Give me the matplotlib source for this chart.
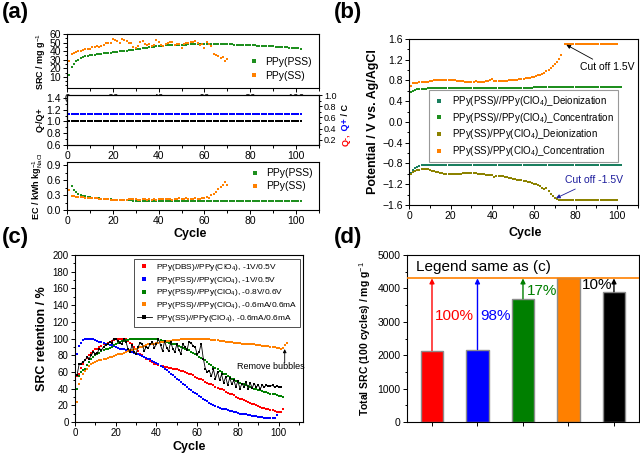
import numpy as np
import matplotlib
matplotlib.use('Agg')
import matplotlib.pyplot as plt
from matplotlib.ticker import MultipleLocator

plt.rcParams['font.family'] = ['Liberation Sans', 'DejaVu Sans']
plt.rcParams['mathtext.fontset'] = 'custom'
plt.rcParams['mathtext.rm'] = 'Liberation Sans'
plt.rcParams['mathtext.it'] = 'Liberation Sans:italic'
plt.rcParams['mathtext.bf'] = 'Liberation Sans:bold'
plt.rcParams['axes.linewidth'] = 0.8

# ---------------- (a) data ----------------
src_pss = [12, 22, 25, 28, 30, 32, 33, 34, 34.5, 35, 35.5, 36, 36.5, 36.8, 37, 37.3, 37.6, 38, 38.3, 38.6,
           39, 39.3, 39.6, 40, 40.3, 40.6, 41, 41.3, 41.6, 42, 42.5, 43, 43.4, 43.8, 44.2, 44.6, 45, 45.3, 45.6, 46,
           46.2, 46.4, 46.6, 46.8, 47, 47.1, 47.2, 47.3, 47.4, 47.5, 47.6, 47.7, 47.8, 47.9, 48, 48.1, 48.2, 48.3, 48.4, 48.5,
           48.5, 48.4, 48.3, 48.3, 48.2, 48.2, 48.1, 48.1, 48, 48, 47.9, 47.8, 47.7, 47.6, 47.5, 47.4, 47.3, 47.2, 47.1, 47,
           46.8, 46.6, 46.4, 46.2, 46, 45.9, 45.8, 45.7, 45.6, 45.5, 45.3, 45.1, 44.9, 44.7, 44.5, 44.3, 44.1, 43.9, 43.7, 43.5,
           43.2, 43]
src_ss = [29, 37, 38, 39, 40, 40, 41, 42, 43, 43, 45, 45, 46, 45, 46, 47, 50, 49, 50, 54,
          53, 52, 50, 54, 53, 52, 50, 49, 45, 44, 46, 51, 52, 48, 47, 48, 46, 47, 53, 51,
          47, 46, 48, 49, 51, 51, 47, 48, 48, 44, 48, 50, 49, 51, 51, 52, 50, 47, 48, 44,
          51, 48, 46, 37, 35, 34, 32, 33, 29, 31]
q_ratio_pss = [1.12] * 102
q_ratio_ss = [1.0] * 102
ec_pss = [0.49, 0.41, 0.36, 0.33, 0.31, 0.29, 0.28, 0.27, 0.26, 0.25, 0.245, 0.24, 0.235, 0.23, 0.226, 0.222, 0.218, 0.214, 0.21,
          0.207, 0.204, 0.202, 0.2, 0.198, 0.196, 0.194, 0.192, 0.19, 0.189, 0.188, 0.187, 0.186, 0.185, 0.184, 0.183, 0.182,
          0.181, 0.18, 0.18, 0.179, 0.179, 0.178, 0.178, 0.178, 0.177, 0.177, 0.177, 0.176, 0.176, 0.176, 0.176, 0.175, 0.175,
          0.175, 0.175, 0.175, 0.174, 0.174, 0.174, 0.174, 0.173, 0.173, 0.173, 0.173, 0.173, 0.172, 0.172, 0.172, 0.172, 0.172,
          0.172, 0.172, 0.172, 0.173, 0.173, 0.173, 0.173, 0.173, 0.174, 0.174, 0.174, 0.174, 0.174, 0.175, 0.175, 0.175, 0.175,
          0.176, 0.176, 0.176, 0.177, 0.177, 0.177, 0.178, 0.178, 0.178, 0.179, 0.179, 0.18, 0.18, 0.18]
ec_ss = [0.40, 0.29, 0.28, 0.27, 0.27, 0.26, 0.26, 0.25, 0.25, 0.25, 0.24, 0.24, 0.24, 0.23, 0.23, 0.23, 0.22, 0.22, 0.21, 0.21,
         0.21, 0.21, 0.21, 0.21, 0.21, 0.21, 0.22, 0.23, 0.23, 0.22, 0.21, 0.20, 0.22, 0.22, 0.21, 0.22, 0.21, 0.22, 0.21, 0.23,
         0.22, 0.23, 0.22, 0.23, 0.22, 0.21, 0.22, 0.23, 0.24, 0.23, 0.22, 0.24, 0.23, 0.22, 0.23, 0.24, 0.22, 0.23, 0.24, 0.25,
         0.27, 0.24, 0.30, 0.33, 0.36, 0.42, 0.46, 0.50, 0.56, 0.51]

# ---------------- (b) data ----------------
pot_pss_deion = [-0.98, -0.92, -0.88, -0.86, -0.84, -0.83, -0.82, -0.82, -0.82, -0.82, -0.82, -0.82, -0.82, -0.82, -0.82,
                 -0.82, -0.82, -0.82, -0.82, -0.82, -0.82, -0.82, -0.82, -0.82, -0.82, -0.82, -0.82, -0.82, -0.82, -0.82,
                 -0.82, -0.82, -0.82, -0.82, -0.82, -0.82, -0.82, -0.82, -0.82, -0.82, -0.82, -0.82, -0.82, -0.82, -0.82,
                 -0.82, -0.82, -0.82, -0.82, -0.82, -0.82, -0.82, -0.82, -0.82, -0.82, -0.82, -0.82, -0.82, -0.82, -0.82,
                 -0.82, -0.82, -0.82, -0.82, -0.82, -0.82, -0.82, -0.82, -0.82, -0.82, -0.82, -0.82, -0.82, -0.82, -0.82,
                 -0.82, -0.82, -0.82, -0.82, -0.82, -0.82, -0.82, -0.83, -0.83, -0.83, -0.83, -0.83, -0.83, -0.83, -0.83,
                 -0.83, -0.83, -0.83, -0.83, -0.83, -0.83, -0.83, -0.83, -0.83, -0.83, -0.83, -0.83]
pot_pss_conc = [0.57, 0.60, 0.62, 0.63, 0.64, 0.64, 0.64, 0.64, 0.65, 0.65, 0.65, 0.65, 0.65, 0.65, 0.65, 0.65, 0.65, 0.65,
                0.65, 0.65, 0.66, 0.66, 0.66, 0.66, 0.66, 0.66, 0.66, 0.66, 0.66, 0.66, 0.66, 0.66, 0.66, 0.66, 0.66, 0.66,
                0.66, 0.66, 0.66, 0.66, 0.66, 0.66, 0.66, 0.66, 0.66, 0.66, 0.66, 0.66, 0.66, 0.66, 0.66, 0.66, 0.66, 0.66,
                0.66, 0.66, 0.66, 0.66, 0.66, 0.67, 0.67, 0.67, 0.67, 0.67, 0.67, 0.67, 0.67, 0.67, 0.67, 0.67, 0.67, 0.67,
                0.67, 0.67, 0.67, 0.67, 0.67, 0.67, 0.67, 0.67, 0.67, 0.68, 0.68, 0.68, 0.68, 0.68, 0.68, 0.68, 0.68, 0.68,
                0.68, 0.68, 0.68, 0.68, 0.68, 0.68, 0.68, 0.68, 0.68, 0.68, 0.68, 0.68]
pot_ss_deion = [-1.00, -0.97, -0.95, -0.93, -0.92, -0.91, -0.90, -0.90, -0.91, -0.92, -0.94, -0.95, -0.96, -0.97, -0.98,
                -0.99, -1.00, -1.00, -1.01, -1.01, -1.01, -1.00, -1.00, -1.00, -1.00, -0.99, -0.99, -0.99, -0.99, -0.98,
                -0.98, -0.98, -1.01, -1.01, -1.01, -1.01, -1.02, -1.02, -1.02, -1.03, -1.06, -1.04, -1.04, -1.05, -1.05,
                -1.06, -1.07, -1.08, -1.08, -1.09, -1.10, -1.11, -1.11, -1.12, -1.13, -1.14, -1.15, -1.16, -1.17, -1.19,
                -1.20, -1.22, -1.24, -1.27, -1.30, -1.28, -1.33, -1.38, -1.42, -1.46, -1.49, -1.50, -1.50, -1.50, -1.50,
                -1.50, -1.50, -1.50, -1.50, -1.50, -1.50, -1.50, -1.50, -1.50, -1.50, -1.50, -1.50, -1.50, -1.50, -1.50,
                -1.50, -1.50, -1.50, -1.50, -1.50, -1.50, -1.50, -1.50, -1.50, -1.50]
pot_ss_conc = [0.70, 0.76, 0.76, 0.76, 0.77, 0.77, 0.77, 0.78, 0.78, 0.79, 0.79, 0.80, 0.80, 0.80, 0.81, 0.81, 0.81, 0.81,
               0.81, 0.80, 0.80, 0.80, 0.79, 0.79, 0.79, 0.79, 0.78, 0.78, 0.78, 0.78, 0.78, 0.79, 0.78, 0.78, 0.78, 0.78,
               0.79, 0.79, 0.80, 0.82, 0.79, 0.79, 0.79, 0.79, 0.79, 0.79, 0.79, 0.80, 0.80, 0.80, 0.81, 0.81, 0.82, 0.82,
               0.83, 0.84, 0.84, 0.85, 0.86, 0.87, 0.88, 0.90, 0.91, 0.93, 0.95, 0.98, 1.01, 1.04, 1.07, 1.11, 1.15, 1.22,
               1.30, np.nan, 1.50, 1.50, 1.50, 1.50, 1.50, 1.50, 1.50, 1.50, 1.50, 1.50, 1.50, 1.50, 1.50, 1.50, 1.50, 1.50,
               1.50, 1.50, 1.50, 1.50, 1.50, 1.50, 1.50, 1.50, 1.50, 1.50]

# ---------------- (c) data ----------------
ret_dbs = [55, 58, 65, 70, 74, 77, 80, 83, 85, 87, 88, 90, 91, 93, 94, 95, 96, 97, 98, 99,
           99, 100, 100, 100, 99, 97, 95, 93, 90, 88, 85, 82, 80, 78, 76, 75, 73, 72, 70, 69,
           68, 67, 67, 66, 66, 65, 65, 64, 64, 63, 62, 61, 61, 60, 59, 58, 57, 56, 54, 53,
           52, 51, 50, 48, 47, 46, 45, 44, 42, 41, 40, 39, 38, 36, 35, 34, 33, 32, 30, 29,
           28, 27, 26, 25, 24, 23, 22, 21, 20, 19, 18, 17, 17, 16, 15, 14, 14, 13, 12, 12, 12, 16]
ret_pss_1v = [82, 91, 95, 98, 99, 100, 100, 99, 99, 98, 97, 96, 96, 95, 94, 93, 92, 92, 91, 90,
              89, 88, 88, 87, 86, 85, 84, 84, 83, 82, 81, 80, 79, 78, 77, 76, 75, 73, 72, 71,
              69, 67, 66, 64, 62, 60, 58, 56, 54, 52, 50, 48, 46, 44, 42, 40, 38, 36, 35, 33,
              31, 30, 28, 26, 25, 23, 22, 20, 19, 18, 17, 16, 15, 15, 14, 13, 13, 12, 12, 11,
              10, 10, 9, 9, 8, 8, 7, 7, 7, 6, 6, 6, 5, 5, 5, 5, 5, 5, 8]
ret_pss_08v = [39, 55, 60, 62, 63, 68, 72, 76, 78, 80, 82, 83, 85, 86, 87, 88, 89, 90, 92, 93,
               95, 96, 97, 97, 98, 98, 99, 99, 99, 100, 100, 100, 100, 100, 100, 100, 100, 100, 99, 99,
               98, 98, 97, 97, 96, 95, 94, 94, 93, 92, 91, 90, 89, 88, 87, 86, 84, 83, 82, 80,
               78, 77, 75, 74, 72, 70, 68, 66, 65, 63, 61, 60, 58, 57, 55, 54, 52, 51, 49, 48,
               47, 46, 45, 44, 43, 42, 41, 40, 39, 38, 38, 37, 36, 36, 35, 34, 33, 33, 32, 31, 31, 30]
ret_pss_ma = [24, 45, 52, 58, 61, 64, 67, 70, 71, 72, 73, 74, 74, 75, 76, 77, 78, 78, 79, 80,
              81, 82, 82, 83, 84, 85, 86, 86, 87, 88, 89, 90, 90, 91, 92, 93, 93, 94, 94, 95,
              95, 96, 96, 96, 97, 97, 97, 98, 98, 98, 98, 99, 99, 99, 99, 99, 100, 100, 100, 100,
              100, 100, 99, 99, 99, 99, 98, 98, 98, 98, 97, 97, 97, 96, 96, 96, 96, 95, 95, 95,
              95, 94, 94, 94, 94, 93, 93, 93, 92, 92, 92, 91, 91, 91, 91, 90, 90, 90, 89, 89,
              88, 89, 92, 95]
ret_ss_ma = [56, 69, 70, 72, 74, 78, 76, 80, 84, 82, 83, 88, 86, 90, 92, 93, 96, 95, 100, 100,
             97, 95, 93, 100, 96, 88, 84, 92, 84, 82, 90, 95, 94, 85, 90, 89, 93, 96, 89, 93,
             100, 92, 85, 97, 89, 85, 96, 88, 84, 93, 86, 82, 93, 90, 86, 96, 95, 91, 90, 81,
             84, 94, 76, 64, 60, 61, 55, 63, 52, 60, 50, 57, 47, 54, 44, 53, 45, 50, 42, 49,
             40, 46, 42, 48, 40, 47, 41, 46, 42, 44, 40, 44, 42, 44, 43, 43, 44, 42, 43, 42, 42]

# ---------------- (d) data ----------------
total_src = [2140, 2170, 3690, 4300, 3900]
bar_colors = ['#ff0000', '#0000ff', '#007f00', '#ff8000', '#000000']
pct_labels = ['100%', '98%', '17%', '', '10%']
ref_level = 4300

GREEN = '#1e8f1e'
ORANGE = '#ff8000'
TEAL = '#1a7f5f'
OLIVE = '#8c8200'


def style_ax(ax, size=7.5):
    ax.tick_params(which='both', direction='out', top=False, right=False, labelsize=size, pad=1.5, width=0.7)
    ax.tick_params(which='major', length=3)
    ax.tick_params(which='minor', length=1.8)


def cyc(series):
    return np.arange(1, len(series) + 1)


fig = plt.figure(figsize=(6.4, 4.59), dpi=100)
ms = 1.7

# ----- (a) top -----
ax1 = fig.add_axes([0.1047, 0.8083, 0.3938, 0.1176])
ax1.plot(cyc(src_pss), src_pss, 's', ms=ms, color=GREEN, mew=0, label='PPy(PSS)')
ax1.plot(cyc(src_ss), src_ss, 's', ms=ms, color=ORANGE, mew=0, label='PPy(SS)')
ax1.set_xlim(0, 110)
ax1.set_ylim(-3, 60)
ax1.set_yticks([10, 20, 30, 40, 50, 60])
ax1.xaxis.set_major_locator(MultipleLocator(20))
ax1.xaxis.set_minor_locator(MultipleLocator(10))
ax1.yaxis.set_minor_locator(MultipleLocator(5))
style_ax(ax1)
ax1.set_ylabel(r'SRC / mg g$^{-1}$', fontsize=6.5, fontweight='bold', labelpad=1)
ax1.legend(loc='lower right', frameon=False, fontsize=7.5, markerscale=2, handletextpad=0.6,
           borderpad=0.2, labelspacing=0.4, handlelength=1.0)

# ----- (a) middle -----
ax2 = fig.add_axes([0.1047, 0.6841, 0.3938, 0.1089])
ax2.plot(cyc(q_ratio_pss), q_ratio_pss, 's', ms=ms, color='#0000ff', mew=0)
ax2.plot(cyc(q_ratio_ss), q_ratio_ss, 's', ms=ms, color='#000000', mew=0)
ax2.set_xlim(0, 110)
ax2.set_ylim(0.6, 1.45)
ax2.set_yticks([0.6, 0.8, 1.0, 1.2, 1.4])
ax2.xaxis.set_major_locator(MultipleLocator(20))
ax2.xaxis.set_minor_locator(MultipleLocator(10))
ax2.yaxis.set_minor_locator(MultipleLocator(0.1))
style_ax(ax2)
ax2.set_ylabel('Q-/Q+', fontsize=6.5, fontweight='bold', labelpad=1)
ax2r = ax2.twinx()
ax2r.set_ylim(0.11, 1.0)
ax2r.set_yticks([0.2, 0.4, 0.6, 0.8, 1.0])
ax2r.yaxis.set_minor_locator(MultipleLocator(0.1))
ax2r.tick_params(which='both', direction='out', labelsize=6.5, pad=1, width=0.7)
ax2r.tick_params(which='major', length=2.5)
ax2r.tick_params(which='minor', length=1.5)

# ----- (a) bottom -----
ax3 = fig.add_axes([0.1047, 0.5425, 0.3938, 0.1046])
ax3.plot(cyc(ec_pss) + 1, ec_pss, 's', ms=ms, color=GREEN, mew=0, label='PPy(PSS)')
ax3.plot(cyc(ec_ss), ec_ss, 's', ms=ms, color=ORANGE, mew=0, label='PPy(SS)')
ax3.set_xlim(0, 110)
ax3.set_ylim(0, 0.97)
ax3.set_yticks([0.0, 0.3, 0.6, 0.9])
ax3.xaxis.set_major_locator(MultipleLocator(20))
ax3.xaxis.set_minor_locator(MultipleLocator(10))
ax3.yaxis.set_minor_locator(MultipleLocator(0.15))
style_ax(ax3)
ax3.set_ylabel(r'EC / kWh kg$^{-1}_{\mathrm{NaCl}}$', fontsize=6.5, fontweight='bold', labelpad=1)
ax3.legend(loc='upper right', frameon=False, fontsize=7.5, markerscale=2, handletextpad=0.6,
           borderpad=0.1, labelspacing=0.3, handlelength=1.0)
fig.text(190 / 640, 1 - 234 / 459, 'Cycle', fontsize=9, fontweight='bold', ha='center', va='center')

# ----- (b) -----
axb = fig.add_axes([0.6391, 0.5534, 0.3578, 0.3617])
axb.plot(cyc(pot_pss_deion), pot_pss_deion, 's', ms=ms, color=TEAL, mew=0, label=r'PPy(PSS)//PPy(ClO$_4$)_Deionization')
axb.plot(cyc(pot_pss_conc), pot_pss_conc, 's', ms=ms, color=GREEN, mew=0, label=r'PPy(PSS)//PPy(ClO$_4$)_Concentration')
axb.plot(cyc(pot_ss_deion), pot_ss_deion, 's', ms=ms, color=OLIVE, mew=0, label=r'PPy(SS)/PPy(ClO$_4$)_Deionization')
axb.plot(cyc(pot_ss_conc), pot_ss_conc, 's', ms=ms, color=ORANGE, mew=0, label=r'PPy(SS)/PPy(ClO$_4$)_Concentration')
axb.set_xlim(0, 110)
axb.set_ylim(-1.6, 1.6)
axb.set_yticks(np.arange(-1.6, 1.61, 0.4))
axb.xaxis.set_major_locator(MultipleLocator(20))
axb.xaxis.set_minor_locator(MultipleLocator(10))
axb.yaxis.set_minor_locator(MultipleLocator(0.2))
style_ax(axb)
axb.set_ylabel('Potential / V vs. Ag/AgCl', fontsize=9, fontweight='bold', labelpad=2)
leg = axb.legend(loc='center', bbox_to_anchor=(0.5, 0.475), fontsize=7, markerscale=1.6, fancybox=False,
                 edgecolor='#808080', handletextpad=0.8, handlelength=1.2, labelspacing=0.28, borderpad=0.4)
leg.get_frame().set_linewidth(0.8)
axb.annotate('Cut off 1.5V', xy=(75, 1.5), xytext=(82, 1.06), fontsize=7.5, va='center',
             arrowprops=dict(arrowstyle='-|>', color='black', lw=0.6, mutation_scale=6, shrinkA=0, shrinkB=1))
axb.annotate('Cut off -1.5V', xy=(70, -1.48), xytext=(75, -1.12), fontsize=7.5, va='center', color='#1c1c9c',
             arrowprops=dict(arrowstyle='-|>', color='#1c1c9c', lw=0.6, mutation_scale=6, shrinkA=2, shrinkB=1))
fig.text(525 / 640, 1 - 233 / 459, 'Cycle', fontsize=9, fontweight='bold', ha='center', va='center')

# ----- (c) -----
axc = fig.add_axes([0.1172, 0.0806, 0.3563, 0.3638])
axc.plot(cyc(ret_dbs), ret_dbs, 's', ms=ms, color='#ff0000', mew=0, label=r'PPy(DBS)//PPy(ClO$_4$), -1V/0.5V')
axc.plot(cyc(ret_pss_1v), ret_pss_1v, 's', ms=ms, color='#0000ff', mew=0, label=r'PPy(PSS)//PPy(ClO$_4$), -1V/0.5V')
axc.plot(cyc(ret_pss_08v), ret_pss_08v, 's', ms=ms, color='#008000', mew=0, label=r'PPy(PSS)//PPy(ClO$_4$), -0.8V/0.6V')
axc.plot(cyc(ret_pss_ma), ret_pss_ma, 's', ms=ms, color=ORANGE, mew=0, label=r'PPy(PSS)//PPy(ClO$_4$), -0.6mA/0.6mA')
axc.plot(cyc(ret_ss_ma), ret_ss_ma, '-s', ms=ms, lw=0.6, color='#000000', mew=0, label=r'PPy(SS)//PPy(ClO$_4$), -0.6mA/0.6mA')
axc.set_xlim(0, 112)
axc.set_ylim(0, 200)
axc.set_yticks(np.arange(0, 201, 20))
axc.xaxis.set_major_locator(MultipleLocator(20))
axc.xaxis.set_minor_locator(MultipleLocator(10))
axc.yaxis.set_minor_locator(MultipleLocator(10))
style_ax(axc, 7)
axc.set_xlabel('Cycle', fontsize=9, fontweight='bold', labelpad=2)
axc.set_ylabel('SRC retention / %', fontsize=9, fontweight='bold', labelpad=3)
legc = axc.legend(loc='upper right', bbox_to_anchor=(0.995, 0.985), fontsize=6, markerscale=1.6, fancybox=False,
                  edgecolor='black', handletextpad=0.5, handlelength=1.8, labelspacing=0.2, borderpad=0.35,
                  borderaxespad=0.2)
legc.get_frame().set_linewidth(0.6)
axc.text(96, 66, 'Remove bubbles', fontsize=6.5, ha='center', va='center')
axc.annotate('', xy=(103, 89), xytext=(103, 71),
             arrowprops=dict(arrowstyle='-|>', color='black', lw=0.6, mutation_scale=5, shrinkA=0, shrinkB=1))

# ----- (d) -----
axd = fig.add_axes([0.6359, 0.0806, 0.3625, 0.3638])
pos = np.arange(1, len(total_src) + 1)
axd.bar(pos, total_src, width=0.5, color=bar_colors, edgecolor='#8c8c8c', linewidth=1.0, zorder=2)
axd.axhline(ref_level, color=ORANGE, lw=1.2, zorder=3)
for p, v, c, t in zip(pos, total_src, bar_colors, pct_labels):
    if not t:
        continue
    axd.annotate('', xy=(p, ref_level), xytext=(p, v),
                 arrowprops=dict(arrowstyle='-|>', color=c, lw=1.0, mutation_scale=7, shrinkA=0, shrinkB=0), zorder=4)
axd.text(1.06, 3180, pct_labels[0], color=bar_colors[0], fontsize=11, ha='left', va='center')
axd.text(2.06, 3180, pct_labels[1], color=bar_colors[1], fontsize=11, ha='left', va='center')
axd.text(3.08, 3930, pct_labels[2], color=bar_colors[2], fontsize=11, ha='left', va='center')
axd.text(4.97, 4110, pct_labels[4], color=bar_colors[4], fontsize=11, ha='right', va='center')
axd.text(0.04, 0.93, 'Legend same as (c)', transform=axd.transAxes, fontsize=11, ha='left', va='center')
axd.set_xlim(0.45, 5.55)
axd.set_ylim(0, 5000)
axd.set_xticks(pos)
axd.set_xticklabels([])
axd.yaxis.set_major_locator(MultipleLocator(1000))
axd.yaxis.set_minor_locator(MultipleLocator(500))
style_ax(axd)
axd.set_ylabel(r'Total SRC (100 cycles) / mg g$^{-1}$', fontsize=7.5, fontweight='bold', labelpad=3)

# panel letters
for x, y, s in [(0.003, 0.995, '(a)'), (0.522, 0.995, '(b)'), (0.003, 0.505, '(c)'), (0.522, 0.505, '(d)')]:
    fig.text(x, y, s, fontsize=16, fontweight='bold', ha='left', va='top')

# right-axis label of (a) middle: coloured pieces stacked bottom to top
fig.canvas.draw()
renderer = fig.canvas.get_renderer()
y_px = 459 - 146
for piece, col in [('Q-,', 'red'), (' Q+', 'blue'), (' / C', 'black')]:
    t = fig.text(346 / 640, y_px / 459, piece, color=col, rotation=90, fontsize=6.5, fontweight='bold',
                 ha='center', va='bottom')
    bb = t.get_window_extent(renderer)
    y_px = bb.y1 + 0.5

fig.savefig('out.png', dpi=100)
